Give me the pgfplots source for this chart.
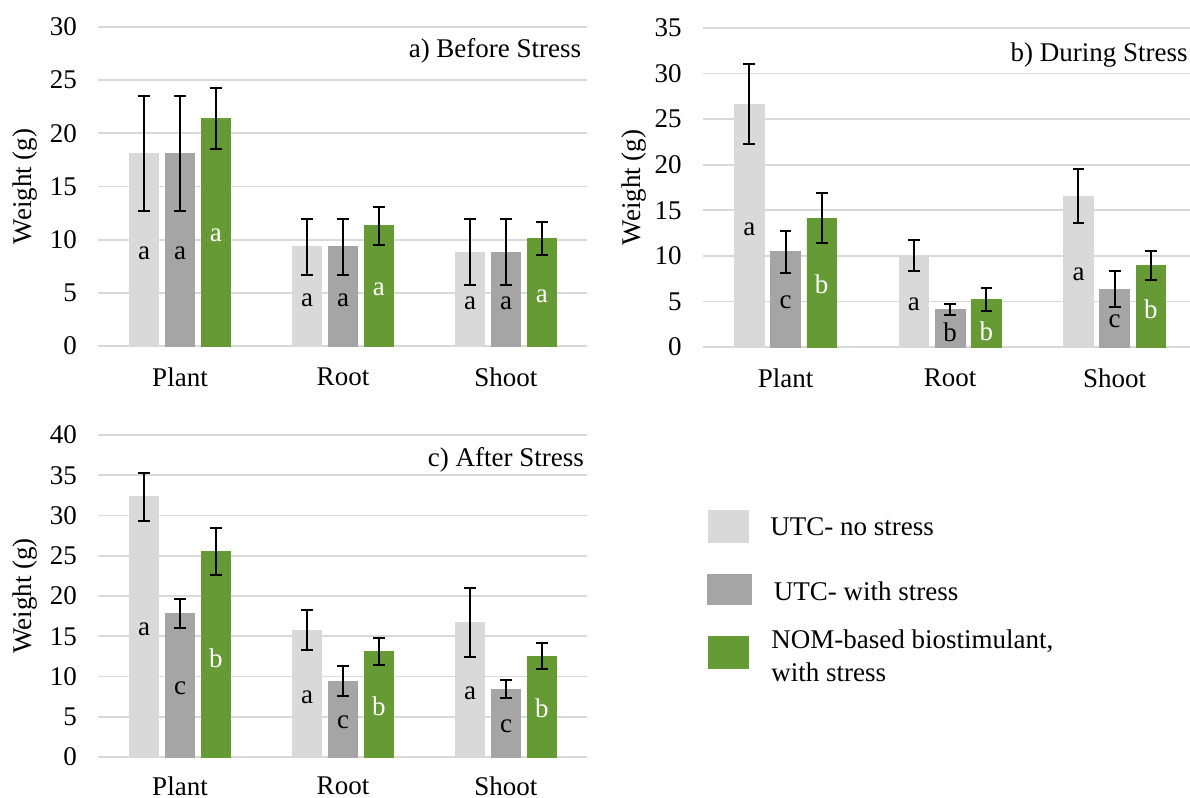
\documentclass[border=0pt]{standalone}
\usepackage{pgfplots}
\pgfplotsset{compat=1.18}
\usepackage{fontspec}
\setmainfont{Liberation Serif}
\definecolor{cLight}{HTML}{D9D9D9}
\definecolor{cGray}{HTML}{A5A5A5}
\definecolor{cGreen}{HTML}{669A34}
\definecolor{cGrid}{HTML}{D9D9D9}
\newcommand{\fs}{\fontsize{13.5}{16}\selectfont}
\tikzset{lab/.style={font=\fs, inner sep=0pt},
  ttl/.style={font=\fs, anchor=base east, inner sep=0pt},
  leg/.style={font=\fs, anchor=base west, inner sep=0pt}}
\pgfplotsset{
 panel/.style={
  scale only axis, ybar, bar width=0.18,
  xmin=-0.5, xmax=2.5, ymin=0,
  xtick={0,1,2}, xticklabels={Plant,Root,Shoot},
  axis line style={draw=none}, major tick length=0pt,
  ymajorgrids, grid style={cGrid, line width=0.85pt},
  font=\fs, tick label style={font=\fs},
  /pgf/number format/assume math mode=true,
  yticklabel style={xshift=-7.3pt},
  xticklabel style={yshift=-7.2pt},
  ylabel={Weight (g)},
  ylabel style={anchor=center},
  error bars/y dir=both, error bars/y explicit,
  error bars/error bar style={black, line width=1pt},
  error bars/error mark options={rotate=90, black, mark size=2.9pt, line width=1pt},
  clip=false,
 },
 s1/.style={fill=cLight, draw=cLight, bar shift=-0.22},
 s2/.style={fill=cGray, draw=cGray, bar shift=0},
 s3/.style={fill=cGreen, draw=cGreen, bar shift=0.22},
}
\begin{document}
\begin{tikzpicture}
\path[use as bounding box] (0,0) rectangle (595pt,399pt);
% ---------- a) Before Stress
\begin{axis}[panel, at={(49.25pt,226pt)}, anchor=south west,
  width=244.5pt, height=159.5pt, ymax=30, ytick={0,5,...,30},
  ylabel style={at={(axis description cs:-0.1495,0.5)}}]
\addplot+[s1] coordinates {(0,18.1) +- (0,5.45) (1,9.33) +- (0,2.66) (2,8.83) +- (0,3.08)};
\addplot+[s2] coordinates {(0,18.1) +- (0,5.45) (1,9.33) +- (0,2.66) (2,8.83) +- (0,3.08)};
\addplot+[s3] coordinates {(0,21.4) +- (0,2.9) (1,11.3) +- (0,1.77) (2,10.12) +- (0,1.53)};
\node[lab] at (axis cs:-0.22,8.7) {a};
\node[lab] at (axis cs:0,8.7) {a};
\node[lab,white] at (axis cs:0.22,10.43) {a};
\node[lab] at (axis cs:0.78,4.32) {a};
\node[lab] at (axis cs:1,4.32) {a};
\node[lab,white] at (axis cs:1.22,5.32) {a};
\node[lab] at (axis cs:1.78,4.0) {a};
\node[lab] at (axis cs:2,4.0) {a};
\node[lab,white] at (axis cs:2.22,4.7) {a};
\node[ttl] at (axis cs:2.464,27.12) {a) Before Stress};
\end{axis}
% ---------- b) During Stress
\begin{axis}[panel, at={(351.6pt,225.5pt)}, anchor=south west,
  width=246.9pt, height=159.5pt, ymax=35, ytick={0,5,...,35},
  ylabel style={at={(axis description cs:-0.140,0.5)}}]
\addplot+[s1] coordinates {(0,26.66) +- (0,4.35) (1,10.02) +- (0,1.72) (2,16.57) +- (0,2.96)};
\addplot+[s2] coordinates {(0,10.46) +- (0,2.29) (1,4.13) +- (0,0.62) (2,6.36) +- (0,1.94)};
\addplot+[s3] coordinates {(0,14.15) +- (0,2.72) (1,5.23) +- (0,1.28) (2,8.96) +- (0,1.59)};
\node[lab] at (axis cs:-0.22,12.95) {a};
\node[lab] at (axis cs:0,4.9) {c};
\node[lab,white] at (axis cs:0.22,6.84) {b};
\node[lab] at (axis cs:0.78,4.65) {a};
\node[lab] at (axis cs:1,1.6) {b};
\node[lab,white] at (axis cs:1.22,1.72) {b};
\node[lab] at (axis cs:1.78,7.94) {a};
\node[lab] at (axis cs:2,2.8) {c};
\node[lab,white] at (axis cs:2.22,4.17) {b};
\node[ttl] at (axis cs:2.445,31.3) {b) During Stress};
\end{axis}
% ---------- c) After Stress
\begin{axis}[panel, at={(49.25pt,20.5pt)}, anchor=south west,
  width=244.5pt, height=161pt, ymax=40, ytick={0,5,...,40},
  xticklabel style={yshift=1pt},
  ylabel style={at={(axis description cs:-0.1495,0.5)}}]
\addplot+[s1] coordinates {(0,32.32) +- (0,2.96) (1,15.74) +- (0,2.5) (2,16.74) +- (0,4.3)};
\addplot+[s2] coordinates {(0,17.83) +- (0,1.8) (1,9.44) +- (0,1.86) (2,8.43) +- (0,1.08)};
\addplot+[s3] coordinates {(0,25.55) +- (0,2.88) (1,13.07) +- (0,1.7) (2,12.53) +- (0,1.63)};
\node[lab] at (axis cs:-0.22,15.87) {a};
\node[lab] at (axis cs:0,8.56) {c};
\node[lab,white] at (axis cs:0.22,12.3) {b};
\node[lab] at (axis cs:0.78,7.39) {a};
\node[lab] at (axis cs:1,4.3) {c};
\node[lab,white] at (axis cs:1.22,6.26) {b};
\node[lab] at (axis cs:1.78,7.93) {a};
\node[lab] at (axis cs:2,3.76) {c};
\node[lab,white] at (axis cs:2.22,6.05) {b};
\node[ttl] at (axis cs:2.48,36.06) {c) After Stress};
\end{axis}
% ---------- legend
\fill[cLight] (354.2pt,127.35pt) rectangle (374.7pt,144pt);
\node[leg] at (385pt,131pt) {UTC- no stress};
\fill[cGray] (353.7pt,96.35pt) rectangle (375.8pt,112pt);
\node[leg] at (386.7pt,98.65pt) {UTC- with stress};
\fill[cGreen] (354.2pt,64.35pt) rectangle (374.7pt,81pt);
\node[leg] at (385.5pt,74.5pt) {NOM-based biostimulant,};
\node[leg] at (385.5pt,58.15pt) {with stress};
\end{tikzpicture}
\end{document}
